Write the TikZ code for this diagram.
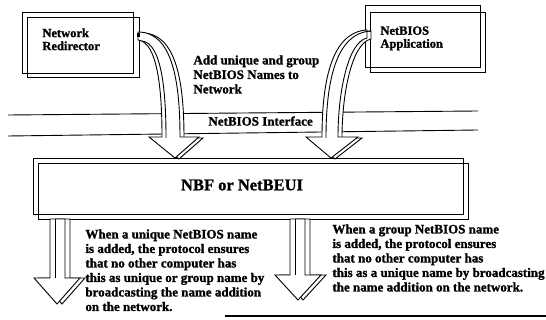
\documentclass[tikz,border=0pt]{standalone}
\usepackage{fontspec}
\setmainfont[BoldFeatures={FakeBold=1.2}]{Liberation Serif}
\begin{document}
\begin{tikzpicture}[x=1pt,y=-1pt,line width=0.9pt,
  lbl/.style={font=\bfseries\fontsize{12.5}{13}\selectfont, align=left, anchor=north west, inner sep=0pt},
  body/.style={font=\bfseries\fontsize{13}{14.5}\selectfont, align=left, anchor=north west, inner sep=0pt},
  blk/.style={draw=black, fill=white, line width=0.9pt, line join=miter},
  frame/.style={draw=black, line width=0.9pt}]
\useasboundingbox (0,0) rectangle (546,320);

% top boxes
\draw[frame] (22,12) rectangle (133,73);
\draw[frame] (27,17) rectangle (139,77);
\node[lbl] (nr) at (42,28) {Network\\Redirector};

\draw[frame] (365,5) rectangle (480,67);
\draw[frame] (370,12) rectangle (485,72);
\node[lbl] (na) at (380,26) {NetBIOS\\Application};

% NetBIOS interface lines
\coordinate (il1) at (8,115); \coordinate (ir1) at (478,111);
\coordinate (il2) at (8,136); \coordinate (ir2) at (478,130);
\draw[frame] (il1) -- (ir1);
\draw[frame] (il2) -- (ir2);
\node[body] (ni) at (208,116) {NetBIOS Interface};

\node[body] (add) at (193,55) {Add unique and group\\NetBIOS Names to\\Network};

% NBF box
\draw[frame] (33,158) rectangle (463,214);
\draw[frame] (38,163) rectangle (468,219);
\node[font=\bfseries\fontsize{16.5}{18}\selectfont, inner sep=0pt] (nbf) at (242,185) {NBF or NetBEUI};

% curved arrow from Network Redirector
\path[blk, shift={(4,1)}] (138,32) .. controls (172,32) and (180,80) .. (180,137) -- (199,137) -- (175,158) -- (149,137) -- (162,137) .. controls (162,92) and (158,42) .. (138,40) -- cycle;
\path[blk] (138,32) .. controls (172,32) and (180,80) .. (180,137) -- (199,137) -- (175,158) -- (149,137) -- (162,137) .. controls (162,92) and (158,42) .. (138,40) -- cycle;
\draw[frame, shift={(4,1)}] (162,137) .. controls (162,92) and (158,42) .. (138,40);
\fill (137,33.5) rectangle (140,37.5);

% curved arrow from NetBIOS Application
\path[blk, shift={(4,1)}] (367,30) .. controls (332,32) and (322,80) .. (322,137) -- (306,137) -- (331,158) -- (358,137) -- (338,137) .. controls (338,92) and (348,42) .. (367,38) -- cycle;
\path[blk] (367,30) .. controls (332,32) and (322,80) .. (322,137) -- (306,137) -- (331,158) -- (358,137) -- (338,137) .. controls (338,92) and (348,42) .. (367,38) -- cycle;
\draw[frame, shift={(4,1)}] (367,30) .. controls (332,32) and (322,80) .. (322,137);

% down arrows
\path[blk, shift={(5,0)}] (50,219) -- (50,278) -- (34,278) -- (57,304) -- (80,278) -- (65,278) -- (65,219) -- cycle;
\path[blk] (50,219) -- (50,278) -- (34,278) -- (57,304) -- (80,278) -- (65,278) -- (65,219) -- cycle;
\draw[frame] (55,219) -- (55,278);

\path[blk, shift={(5,0)}] (290,219) -- (290,275) -- (275,275) -- (298,300) -- (321,275) -- (305,275) -- (305,219) -- cycle;
\path[blk] (290,219) -- (290,275) -- (275,275) -- (298,300) -- (321,275) -- (305,275) -- (305,219) -- cycle;
\draw[frame] (295,219) -- (295,275);

% texts
\node[body] (tl) at (85,229) {When a unique NetBIOS name\\is added, the protocol ensures\\that no other computer has\\this as unique or group name by\\broadcasting the name addition\\on the network.};
\node[body] (tr) at (332,224) {When a group NetBIOS name\\is added, the protocol ensures\\that no other computer has\\this as a unique name by broadcasting\\the name addition on the network.};

% bottom rule
\coordinate (bl) at (225,316); \coordinate (br) at (546,316);
\draw[line width=2.5pt] (bl) -- (br);
\end{tikzpicture}
\end{document}
